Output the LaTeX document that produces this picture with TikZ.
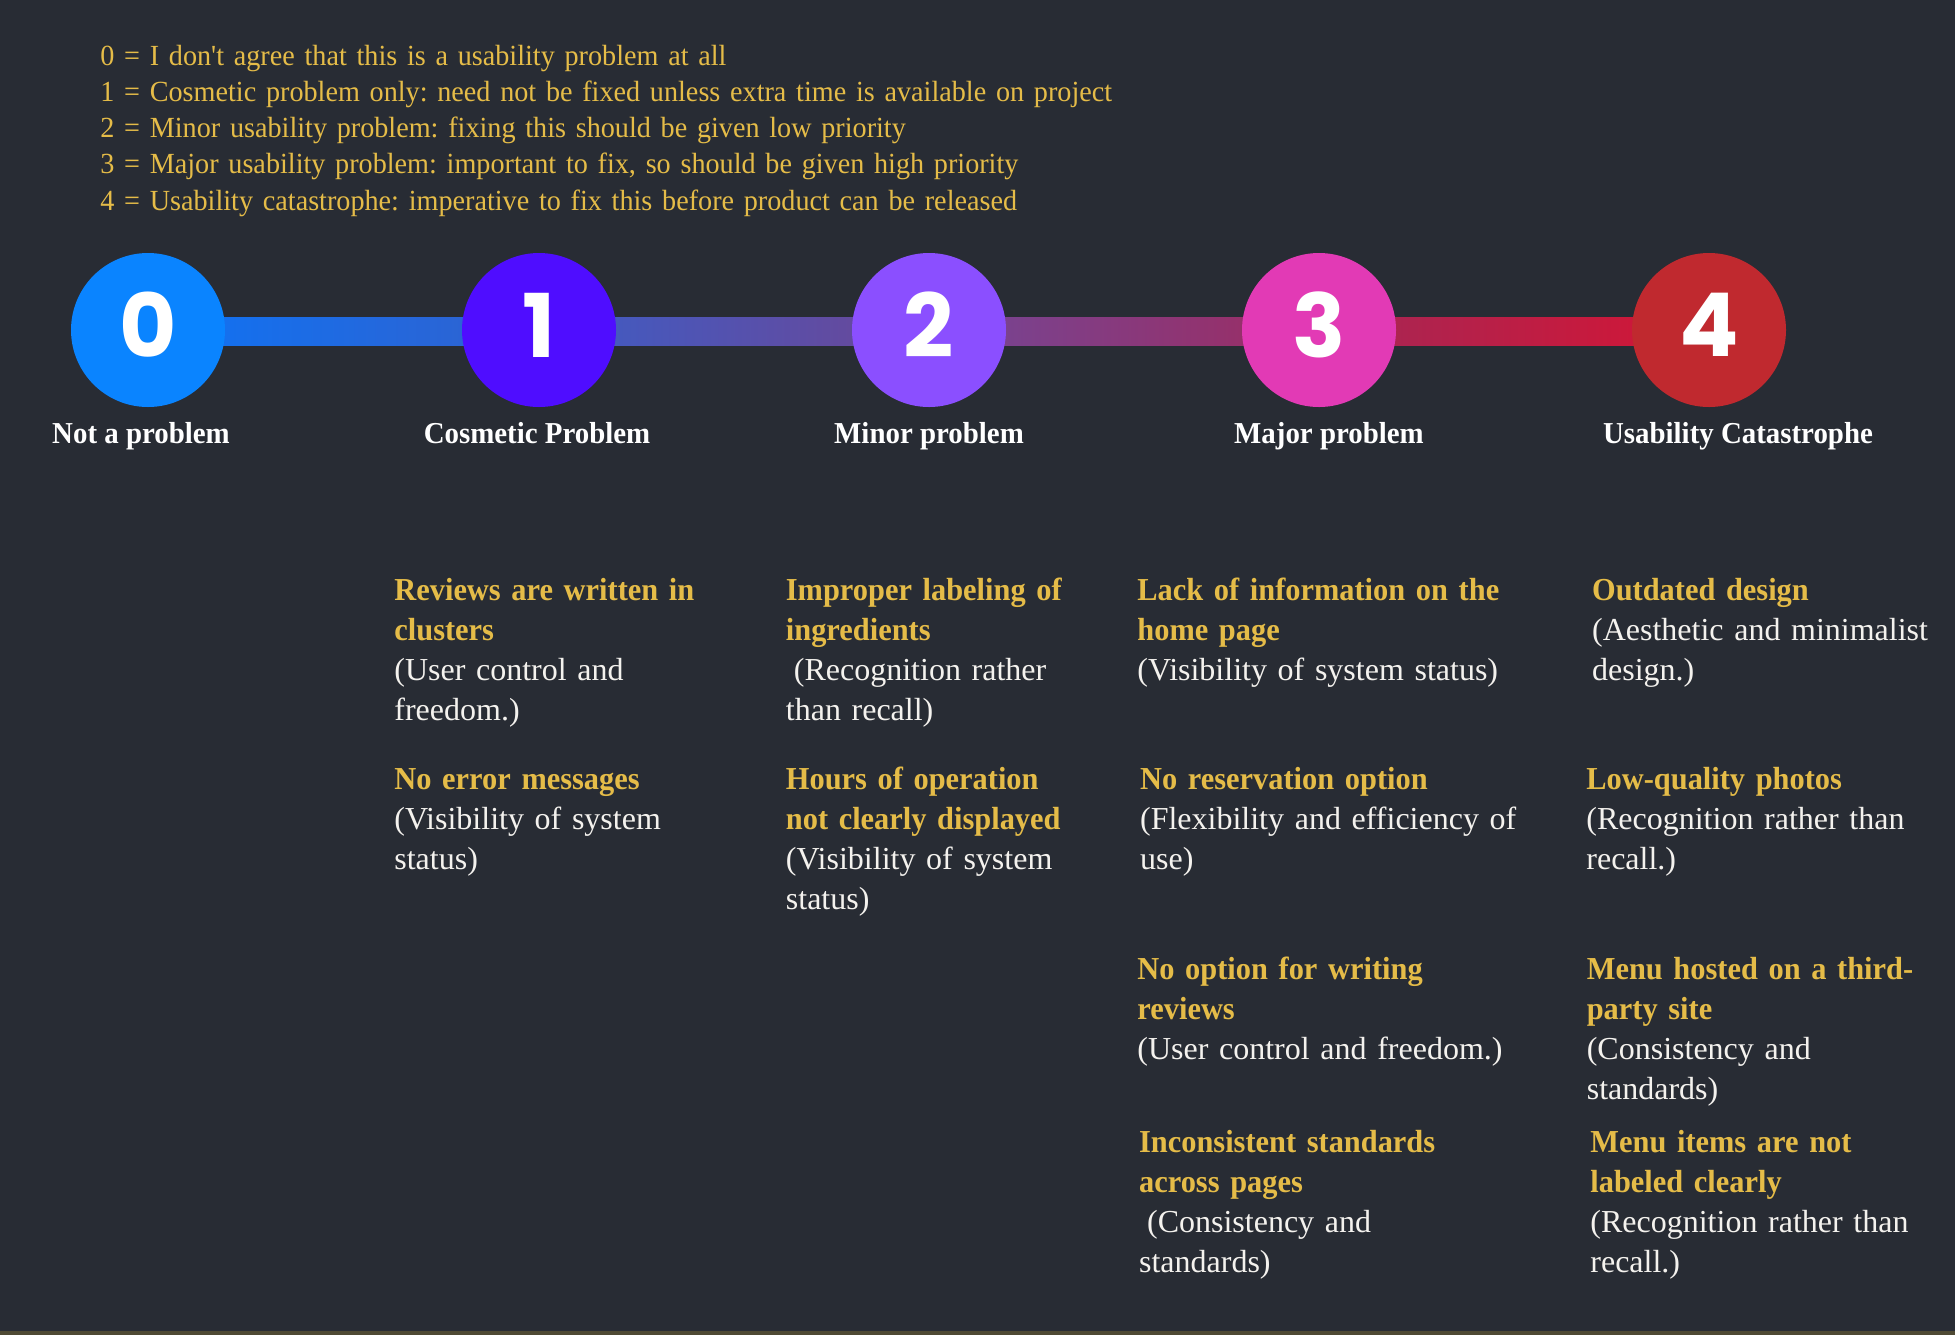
\documentclass[tikz,border=0pt]{standalone}
\usepackage{fontspec}
\setmainfont{Liberation Serif}
\newfontfamily\titlef[FakeStretch=0.95]{Liberation Serif Bold}
\newfontfamily\legf[FakeStretch=0.965]{Liberation Serif}
\newfontfamily\numf{Poppins Bold}
\usetikzlibrary{calc}
\definecolor{bgc}{HTML}{282C34}
\definecolor{gold}{HTML}{E5BC48}
\definecolor{desc}{HTML}{F4F2EE}
\definecolor{cz}{HTML}{0A84FF}
\definecolor{co}{HTML}{4F0DFF}
\definecolor{ct}{HTML}{8B4FFF}
\definecolor{cth}{HTML}{E23AB5}
\definecolor{cf}{HTML}{C0292F}
\definecolor{olivebar}{HTML}{4F4A34}
\pgfdeclarelayer{bg}
\pgfdeclarelayer{bars}
\pgfsetlayers{bg,bars,main}
\newcommand{\ttl}[1]{{\titlef\color{gold}#1}}
\frenchspacing
\begin{document}
\begin{tikzpicture}[x=0.5pt,y=-0.5pt,
  circ/.style={circle, draw=none, minimum size=77pt, inner sep=0pt},
  num/.style={inner sep=0pt, text=white, font=\numf\fontsize{44}{44}\selectfont},
  lbl/.style={anchor=base, inner sep=0pt, text=white, font=\titlef\fontsize{15.2}{18}\selectfont},
  blk/.style={anchor=base west, inner sep=0pt, text width=300pt, align=left, text=desc, font=\frenchspacing\fontsize{16}{20}\selectfont},
  legendtxt/.style={anchor=base west, inner sep=0pt, text width=700pt, align=left, text=gold, font=\legf\frenchspacing\fontsize{14.6}{18.15}\selectfont}
]
\useasboundingbox (0,0) rectangle (1955,1335);
\begin{pgfonlayer}{bg}
\fill[bgc] (0,0) rectangle (1955,1335);
\fill[olivebar] (0,1330.5) rectangle (1955,1335);
\end{pgfonlayer}

% legend
\node[legendtxt] (legend) at (100,65) {0 = I don't agree that this is a usability problem at all\\
1 = Cosmetic problem only: need not be fixed unless extra time is available on project\\
2 = Minor usability problem: fixing this should be given low priority\\
3 = Major usability problem: important to fix, so should be given high priority\\
4 = Usability catastrophe: imperative to fix this before product can be released};

% circles
\node[circ, fill=cz]  (c0) at (148,330) {};
\node[circ, fill=co]  (c1) at (539,330) {};
\node[circ, fill=ct]  (c2) at (929,330) {};
\node[circ, fill=cth] (c3) at (1319,330) {};
\node[circ, fill=cf]  (c4) at (1709,330) {};
\node[num] (n0) at (148,325) {0};
\node[num] (n1) at (539,325) {1};
\node[num] (n2) at (929,325) {2};
\node[num] (n3) at (1319,325) {3};
\node[num] (n4) at (1709,325) {4};

% bars
\begin{pgfonlayer}{bars}
\shade[left color={rgb,255:red,20;green,112;blue,238}, right color={rgb,255:red,43;green,100;blue,212}]
  ($(c0.east)+(-6,-13)$) rectangle ($(c1.west)+(6,15)$);
\shade[left color={rgb,255:red,69;green,89;blue,190}, right color={rgb,255:red,100;green,74;blue,158}]
  ($(c1.east)+(-6,-13)$) rectangle ($(c2.west)+(6,15)$);
\shade[left color={rgb,255:red,122;green,66;blue,142}, right color={rgb,255:red,150;green,48;blue,106}]
  ($(c2.east)+(-6,-13)$) rectangle ($(c3.west)+(6,15)$);
\shade[left color={rgb,255:red,172;green,36;blue,80}, right color={rgb,255:red,204;green,24;blue,58}]
  ($(c3.east)+(-6,-13)$) rectangle ($(c4.west)+(6,15)$);
\end{pgfonlayer}

% labels
\node[lbl] (l0) at (141,443) {Not a problem};
\node[lbl] (l1) at (537,443) {Cosmetic Problem};
\node[lbl] (l2) at (929,443) {Minor problem};
\node[lbl] (l3) at (1329,443) {Major problem};
\node[lbl] (l4) at (1738,443) {Usability Catastrophe};

% blocks
\node[blk] (b1) at (394,600.7) {\ttl{Reviews are written in\\clusters}\\(User control and\\freedom.)};
\node[blk] (b2) at (394,789.3) {\ttl{No error messages}\\(Visibility of system\\status)};
\node[blk] (b3) at (785.5,600.7) {\ttl{Improper labeling of\\ingredients}\\\hspace*{4pt}(Recognition rather\\than recall)};
\node[blk] (b4) at (785.5,789.3) {\ttl{Hours of operation\\not clearly displayed}\\(Visibility of system\\status)};
\node[blk] (b5) at (1137,600.7) {\ttl{Lack of information on the\\home page}\\(Visibility of system status)};
\node[blk] (b6) at (1139.7,789.3) {\ttl{No reservation option}\\(Flexibility and efficiency of\\use)};
\node[blk] (b7) at (1137,979) {\ttl{No option for writing\\reviews}\\(User control and freedom.)};
\node[blk] (b8) at (1138.7,1152.7) {\ttl{Inconsistent standards\\across pages}\\\hspace*{4pt}(Consistency and\\standards)};
\node[blk] (b9) at (1591.7,600.7) {\ttl{Outdated design}\\(Aesthetic and minimalist\\design.)};
\node[blk] (b10) at (1586,789.3) {\ttl{Low-quality photos}\\(Recognition rather than\\recall.)};
\node[blk] (b11) at (1586.4,979) {\ttl{Menu hosted on a third-\\party site}\\(Consistency and\\standards)};
\node[blk] (b12) at (1590,1152.7) {\ttl{Menu items are not\\labeled clearly}\\(Recognition rather than\\recall.)};
\end{tikzpicture}
\end{document}
